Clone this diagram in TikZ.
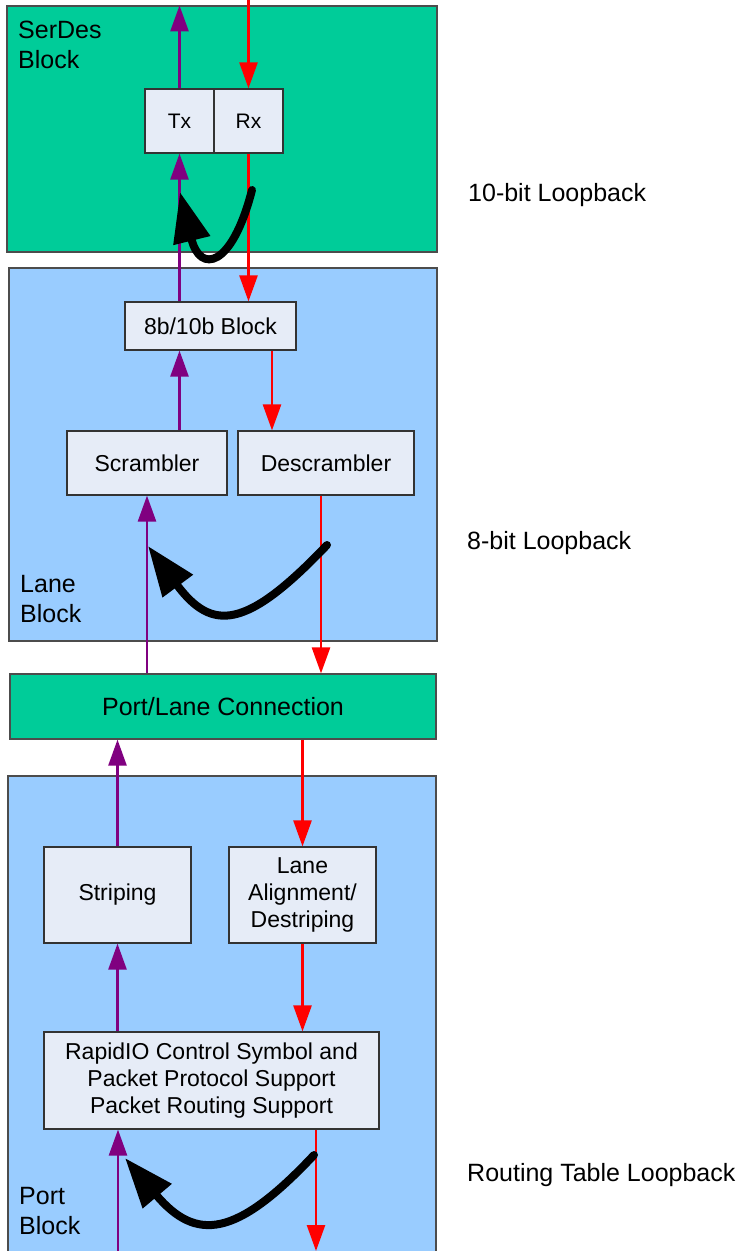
\documentclass[tikz,border=0pt]{standalone}
\usepackage{fontspec}
\setmainfont{Liberation Sans}
\usepackage{tikz}
\usetikzlibrary{arrows.meta}

\definecolor{serdesgreen}{HTML}{00CC99}
\definecolor{laneblue}{HTML}{99CCFF}
\definecolor{boxfill}{HTML}{E6ECF7}
\definecolor{txpurple}{HTML}{800080}

\begin{document}
\begin{tikzpicture}[x=1pt, y=-1pt,
    bigblock/.style={draw=black!70, line width=1.2pt, inner sep=0pt},
    fnbox/.style={draw=black!80, line width=1.2pt, fill=boxfill, align=center, font=\fontsize{23}{27}\selectfont},
    blocklabel/.style={anchor=north west, inner sep=0pt, align=left, font=\fontsize{25}{30}\selectfont},
    looplabel/.style={anchor=west, inner sep=0pt, font=\fontsize{25}{30}\selectfont},
    txline/.style={draw=txpurple, line width=2.6pt, -{Triangle[length=26pt, width=18pt]}},
    rxline/.style={draw=red, line width=2.6pt, -{Triangle[length=26pt, width=18pt]}},
    loopback/.style={draw=black, line width=8pt, line cap=round, -{Triangle[length=50pt, width=36pt]}}]
    \useasboundingbox (0,0) rectangle (744,1251);
    \clip (0,0) rectangle (744,1251);

    % big blocks
    \node [bigblock, fill=serdesgreen, minimum width=430pt, minimum height=246pt](serdes) at (222,129) {};
    \node [bigblock, fill=laneblue, minimum width=428pt, minimum height=373pt](lane) at (223,454.5) {};
    \node [bigblock, fill=serdesgreen, minimum width=426pt, minimum height=65pt, font=\fontsize{25}{30}\selectfont](plc) at (223,706.5) {Port/Lane Connection};
    \node [bigblock, fill=laneblue, minimum width=428pt, minimum height=494pt](port) at (222,1023) {};

    \node [blocklabel](serdeslbl) at (18,21) {SerDes\\Block};
    \node [blocklabel](lanelbl) at (20,575) {Lane\\Block};
    \node [blocklabel](portlbl) at (19,1187) {Port\\Block};

    % inner boxes
    \node [fnbox, minimum width=69pt, minimum height=64pt, font=\fontsize{21}{25}\selectfont](tx) at (179.5,121) {Tx};
    \node [fnbox, minimum width=69pt, minimum height=64pt, font=\fontsize{21}{25}\selectfont](rx) at (248.5,121) {Rx};
    \node [fnbox, minimum width=171pt, minimum height=48pt](bb) at (210.5,326) {8b/10b Block};
    \node [fnbox, minimum width=160pt, minimum height=64pt](scr) at (147,463) {Scrambler};
    \node [fnbox, minimum width=176pt, minimum height=64pt](desc) at (326,463) {Descrambler};
    \node [fnbox, minimum width=147pt, minimum height=96pt](stripe) at (117.5,895) {Striping};
    \node [fnbox, minimum width=147pt, minimum height=96pt](align) at (302.5,895) {Lane\\Alignment/\\Destriping};
    \node [fnbox, minimum width=335pt, minimum height=97pt](rio) at (211.5,1080.5) {RapidIO Control Symbol and\\Packet Protocol Support\\Packet Routing Support};

    % data paths
    \coordinate (rxin) at (248.5,0);
    \draw [rxline] (rxin) -- (rx.north);
    \draw [txline] (tx.north) -- (serdes.north -| tx.north);
    \draw [txline] (bb.north -| tx.south) -- (tx.south);
    \draw [rxline] (rx.south) -- (bb.north -| rx.south);
    \draw [txline] (scr.north -| tx.south) -- (bb.south -| tx.south);
    \draw [rxline] ([xshift=61.5pt]bb.south) -- ([xshift=-54pt]desc.north);
    \draw [txline] (plc.north -| scr.south) -- (scr.south);
    \draw [rxline] ([xshift=-5pt]desc.south) -- ([xshift=98pt]plc.north);
    \draw [txline] (stripe.north) -- (plc.south -| stripe.north);
    \draw [rxline] (plc.south -| align.north) -- (align.north);
    \draw [txline] (rio.north -| stripe.south) -- (stripe.south);
    \draw [rxline] (align.south) -- (rio.north -| align.south);
    \coordinate (portin) at (118,1251);
    \coordinate (portout) at (316,1251);
    \draw [txline] (portin) -- (rio.south -| portin);
    \draw [rxline] (rio.south -| portout) -- (portout);

    % loopbacks
    \coordinate (lb10s) at (252,190);
    \coordinate (lb10e) at (180,192);
    \draw [loopback] (lb10s) .. controls (232,268) and (200,274) .. (lb10e);
    \coordinate (lb8s) at (327,545);
    \coordinate (lb8e) at (148,546);
    \draw [loopback] (lb8s) .. controls (246,630) and (212,632) .. (lb8e);
    \coordinate (lbrts) at (314,1155);
    \coordinate (lbrte) at (125,1158);
    \draw [loopback] (lbrts) .. controls (236,1238) and (196,1242) .. (lbrte);

    \node [looplabel](lb10lbl) at (468,195) {10-bit Loopback};
    \node [looplabel](lb8lbl) at (467,543) {8-bit Loopback};
    \node [looplabel](lbrtlbl) at (467,1175) {Routing Table Loopback};
\end{tikzpicture}
\end{document}
